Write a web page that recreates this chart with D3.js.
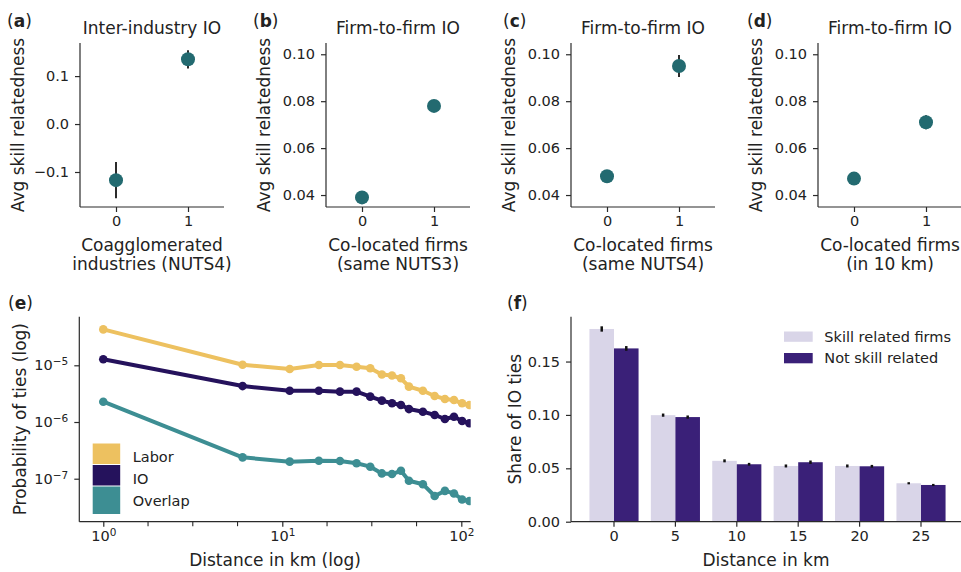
<!DOCTYPE html>
<html>
<head>
<meta charset="utf-8">
<script src="https://cdn.jsdelivr.net/npm/d3@7"></script>
<style>
  body { margin: 0; background: #fff; }
  text { fill: #222; }
</style>
</head>
<body>
<script>
// data
var binCats = [0, 1];

var interIndustryMean = [-0.117, 0.135];
var interIndustryErr = [0.038, 0.019];
var nuts3Mean = [0.039, 0.078];
var nuts3Err = [0.0008, 0.0012];
var nuts4Mean = [0.048, 0.095];
var nuts4Err = [0.0012, 0.0047];
var km10Mean = [0.047, 0.071];
var km10Err = [0.0008, 0.003];

var distLog = [1, 6, 11, 16, 21, 26, 31, 36, 41, 46, 51, 61, 71, 81, 91, 101, 111];
var labor = [4.3e-5, 1.02e-5, 8.6e-6, 1.01e-5, 1.01e-5, 9.4e-6, 8.85e-6, 6.9e-6, 6.6e-6, 5.9e-6, 4.2e-6, 3.56e-6, 2.88e-6, 2.55e-6, 2.44e-6, 2.14e-6, 2.0e-6];
var io = [1.28e-5, 4.3e-6, 3.56e-6, 3.56e-6, 3.43e-6, 3.43e-6, 2.8e-6, 2.38e-6, 2.14e-6, 2.0e-6, 1.69e-6, 1.52e-6, 1.33e-6, 1.13e-6, 1.24e-6, 1.04e-6, 9.5e-7];
var overlap = [2.28e-6, 2.38e-7, 2.0e-7, 2.07e-7, 2.05e-7, 1.87e-7, 1.63e-7, 1.24e-7, 1.21e-7, 1.38e-7, 9.2e-8, 8.0e-8, 4.95e-8, 6.1e-8, 5.5e-8, 4.3e-8, 4.05e-8];

var distCats = ["0", "5", "10", "15", "20", "25"];
var skillRelated = [0.1805, 0.0998, 0.057, 0.0522, 0.0522, 0.036];
var skillRelatedErr = [0.0025, 0.0015, 0.0014, 0.0014, 0.0014, 0.001];
var notSkillRelated = [0.1623, 0.098, 0.0538, 0.0557, 0.0519, 0.0344];
var notSkillRelatedErr = [0.0022, 0.0015, 0.0013, 0.0016, 0.0013, 0.001];

var W = 961, H = 572;
var ink = "#222", spine = "#2a2a2a";
var teal = "#236a70";

var svg = d3.select("body").append("svg")
    .attr("width", W)
    .attr("height", H)
    .style("font-family", "'DejaVu Sans', sans-serif");

function styleAxis(g) {
  g.select(".domain").remove();
  g.selectAll(".tick line").attr("stroke", spine).attr("stroke-width", 1.2);
  g.selectAll(".tick text").attr("font-size", "14.5px").attr("fill", ink)
    .attr("font-family", "'DejaVu Sans', sans-serif");
  g.attr("font-family", null).attr("font-size", null);
}

function spines(x0, x1, y0, y1) {
  svg.append("line").attr("x1", x0).attr("x2", x0).attr("y1", y0).attr("y2", y1)
    .attr("stroke", spine).attr("stroke-width", 1.2);
  svg.append("line").attr("x1", x0).attr("x2", x1).attr("y1", y1).attr("y2", y1)
    .attr("stroke", spine).attr("stroke-width", 1.2);
}

function panelLabel(x, y, letter) {
  var t = svg.append("text").attr("x", x).attr("y", y).attr("font-size", "17px");
  t.append("tspan").text("(");
  t.append("tspan").attr("font-weight", "bold").text(letter);
  t.append("tspan").text(")");
}

function yLabel(cx, cy, txt) {
  svg.append("text")
    .attr("transform", "translate(" + cx + "," + cy + ") rotate(-90)")
    .attr("text-anchor", "middle").attr("dy", "0.35em")
    .attr("font-size", "17px").text(txt);
}

function xLabel(cx, y, lines) {
  lines.forEach(function (l, i) {
    svg.append("text").attr("x", cx).attr("y", y + i * 19)
      .attr("text-anchor", "middle").attr("font-size", "17px").text(l);
  });
}

// ---- panels a-d: point plots ----
var top1 = 43, bot1 = 207, pw = 144;

function pointPanel(p) {
  var x = d3.scaleLinear().domain([-0.5, 1.5]).range([p.left, p.left + pw]);
  var y = d3.scaleLinear().domain(p.yDomain).range([bot1, top1]);

  spines(p.left, p.left + pw, top1, bot1);

  svg.append("g").attr("transform", "translate(0," + bot1 + ")")
    .call(d3.axisBottom(x).tickValues(binCats).tickFormat(d3.format("d")).tickSize(5).tickPadding(4))
    .call(styleAxis);
  svg.append("g").attr("transform", "translate(" + p.left + ",0)")
    .call(d3.axisLeft(y).tickValues(p.ticks).tickFormat(p.fmt).tickSize(5).tickPadding(6))
    .call(styleAxis);

  svg.selectAll(null).data(binCats).enter().append("line")
    .attr("x1", function (d) { return x(d); })
    .attr("x2", function (d) { return x(d); })
    .attr("y1", function (d, i) { return y(p.mean[i] - p.err[i]); })
    .attr("y2", function (d, i) { return y(p.mean[i] + p.err[i]); })
    .attr("stroke", "#2b2b2b").attr("stroke-width", 2);

  svg.selectAll(null).data(binCats).enter().append("circle")
    .attr("cx", function (d) { return x(d); })
    .attr("cy", function (d, i) { return y(p.mean[i]); })
    .attr("r", 7)
    .attr("fill", teal);

  svg.append("text").attr("x", p.left + pw / 2).attr("y", 34)
    .attr("text-anchor", "middle").attr("font-size", "17px").text(p.title);
  yLabel(p.left - 62, (top1 + bot1) / 2, "Avg skill relatedness");
  xLabel(p.left + pw / 2, 251, p.xlab);
  panelLabel(p.labelX, 27, p.letter);
}

var minusFmt = function (d) { return d3.format(".1f")(d).replace("-", "\u2212"); };
var firmDomain = [0.0349, 0.1048];
var firmTicks = [0.04, 0.06, 0.08, 0.10];

pointPanel({ left: 80, letter: "a", labelX: 7, title: "Inter-industry IO",
  xlab: ["Coagglomerated", "industries (NUTS4)"],
  mean: interIndustryMean, err: interIndustryErr,
  yDomain: [-0.173, 0.169], ticks: [-0.1, 0, 0.1], fmt: minusFmt });
pointPanel({ left: 326, letter: "b", labelX: 253, title: "Firm-to-firm IO",
  xlab: ["Co-located firms", " (same NUTS3)"],
  mean: nuts3Mean, err: nuts3Err,
  yDomain: firmDomain, ticks: firmTicks, fmt: d3.format(".2f") });
pointPanel({ left: 571, letter: "c", labelX: 503, title: "Firm-to-firm IO",
  xlab: ["Co-located firms", " (same NUTS4)"],
  mean: nuts4Mean, err: nuts4Err,
  yDomain: firmDomain, ticks: firmTicks, fmt: d3.format(".2f") });
pointPanel({ left: 818, letter: "d", labelX: 747, title: "Firm-to-firm IO",
  xlab: ["Co-located firms", "(in 10 km)"],
  mean: km10Mean, err: km10Err,
  yDomain: firmDomain, ticks: firmTicks, fmt: d3.format(".2f") });

// ---- panel e: log-log lines ----
var eL = 79.3, eR = 470.7, top2 = 316.7, bot2 = 521.7;
var xe = d3.scaleLog().domain([Math.pow(10, -0.134), Math.pow(10, 2.0525)]).range([eL, eR]);
var ye = d3.scaleLog().domain([Math.pow(10, -7.758), Math.pow(10, -4.143)]).range([bot2, top2]);

svg.append("clipPath").attr("id", "clipE").append("rect")
  .attr("x", eL).attr("y", top2).attr("width", eR - eL).attr("height", bot2 - top2);

spines(eL, eR, top2, bot2);

function supLabels(g, exps) {
  g.selectAll(".tick text").each(function (d, i) {
    var t = d3.select(this);
    t.text("");
    t.append("tspan").text("10");
    t.append("tspan").attr("dy", "-0.5em").attr("font-size", "10.5px").text(exps[i]);
  });
}

svg.append("g").attr("transform", "translate(0," + bot2 + ")")
  .call(d3.axisBottom(xe).tickValues([1, 10, 100]).tickSize(5).tickPadding(4))
  .call(styleAxis)
  .call(supLabels, ["0", "1", "2"]);

var minorE = [1, 2, 3, 5, 6, 7].map(function (k) { return Math.pow(10, k / 4); });
svg.selectAll(null).data(minorE).enter().append("line")
  .attr("x1", function (d) { return xe(d); }).attr("x2", function (d) { return xe(d); })
  .attr("y1", bot2).attr("y2", bot2 + 4.5)
  .attr("stroke", spine).attr("stroke-width", 1.1);

svg.append("g").attr("transform", "translate(" + eL + ",0)")
  .call(d3.axisLeft(ye).tickValues([1e-7, 1e-6, 1e-5]).tickSize(5).tickPadding(6))
  .call(styleAxis)
  .call(supLabels, ["\u22127", "\u22126", "\u22125"]);

var seriesE = [
  { name: "Labor", values: labor, color: "#edc160" },
  { name: "IO", values: io, color: "#25125c" },
  { name: "Overlap", values: overlap, color: "#3d8e93" }
];

var lineE = d3.line()
  .x(function (d, i) { return xe(distLog[i]); })
  .y(function (d) { return ye(d); });

var gE = svg.append("g").attr("clip-path", "url(#clipE)");
seriesE.forEach(function (s) {
  gE.append("path").datum(s.values)
    .attr("d", lineE)
    .attr("fill", "none").attr("stroke", s.color)
    .attr("stroke-width", 4).attr("stroke-linejoin", "round");
  gE.selectAll(null).data(s.values).enter().append("circle")
    .attr("cx", function (d, i) { return xe(distLog[i]); })
    .attr("cy", function (d) { return ye(d); })
    .attr("r", 4.3).attr("fill", s.color);
});

// legend e
var legE = [{ y: 443.5, h: 20.5 }, { y: 465, h: 20.5 }, { y: 486.5, h: 27.5 }];
seriesE.forEach(function (s, i) {
  svg.append("rect").attr("x", 92.7).attr("y", legE[i].y)
    .attr("width", 27.5).attr("height", legE[i].h).attr("fill", s.color);
  svg.append("text").attr("x", 132.7).attr("y", 461.7 + i * 22)
    .attr("font-size", "14.5px").text(s.name);
});

yLabel(20.5, (top2 + bot2) / 2, "Probability of ties (log)");
xLabel((eL + eR) / 2, 566, ["Distance in km (log)"]);
panelLabel(8, 309, "e");

// ---- panel f: grouped bars ----
var fL = 571, fR = 961;
var x0 = d3.scaleBand().domain(distCats).range([583.3, 951.7]).paddingInner(0.2).paddingOuter(0.1);
var groups = ["skill", "not"];
var x1 = d3.scaleBand().domain(groups).range([0, x0.bandwidth()]);
var yf = d3.scaleLinear().domain([0, 0.192]).range([bot2, top2]);
var barColors = { skill: "#d9d5e8", not: "#3a2078" };
var barVals = { skill: skillRelated, not: notSkillRelated };
var barErr = { skill: skillRelatedErr, not: notSkillRelatedErr };

groups.forEach(function (gk) {
  svg.selectAll(null).data(distCats).enter().append("rect")
    .attr("x", function (d) { return x0(d) + x1(gk); })
    .attr("y", function (d, i) { return yf(barVals[gk][i]); })
    .attr("width", x1.bandwidth())
    .attr("height", function (d, i) { return bot2 - yf(barVals[gk][i]); })
    .attr("fill", barColors[gk]);
  svg.selectAll(null).data(distCats).enter().append("line")
    .attr("x1", function (d) { return x0(d) + x1(gk) + x1.bandwidth() / 2; })
    .attr("x2", function (d) { return x0(d) + x1(gk) + x1.bandwidth() / 2; })
    .attr("y1", function (d, i) { return yf(barVals[gk][i] - barErr[gk][i]); })
    .attr("y2", function (d, i) { return yf(barVals[gk][i] + barErr[gk][i]); })
    .attr("stroke", "#111").attr("stroke-width", 2.5);
});

spines(fL, fR, top2, bot2);

svg.append("g").attr("transform", "translate(0," + bot2 + ")")
  .call(d3.axisBottom(x0).tickSize(5).tickPadding(4))
  .call(styleAxis);
svg.append("g").attr("transform", "translate(" + fL + ",0)")
  .call(d3.axisLeft(yf).tickValues([0, 0.05, 0.1, 0.15]).tickFormat(d3.format(".2f")).tickSize(5).tickPadding(6))
  .call(styleAxis);

var legF = [{ label: "Skill related firms", key: "skill" }, { label: "Not skill related", key: "not" }];
legF.forEach(function (l, i) {
  svg.append("rect").attr("x", 784).attr("y", 331.5 + i * 21.5)
    .attr("width", 28.7).attr("height", 10.3).attr("fill", barColors[l.key]);
  svg.append("text").attr("x", 824.3).attr("y", 341.7 + i * 21.5)
    .attr("font-size", "14.5px").text(l.label);
});

yLabel(515, (top2 + bot2) / 2, "Share of IO ties");
xLabel((fL + fR) / 2, 566, ["Distance in km"]);
panelLabel(507, 309, "f");
</script>
</body>
</html>
